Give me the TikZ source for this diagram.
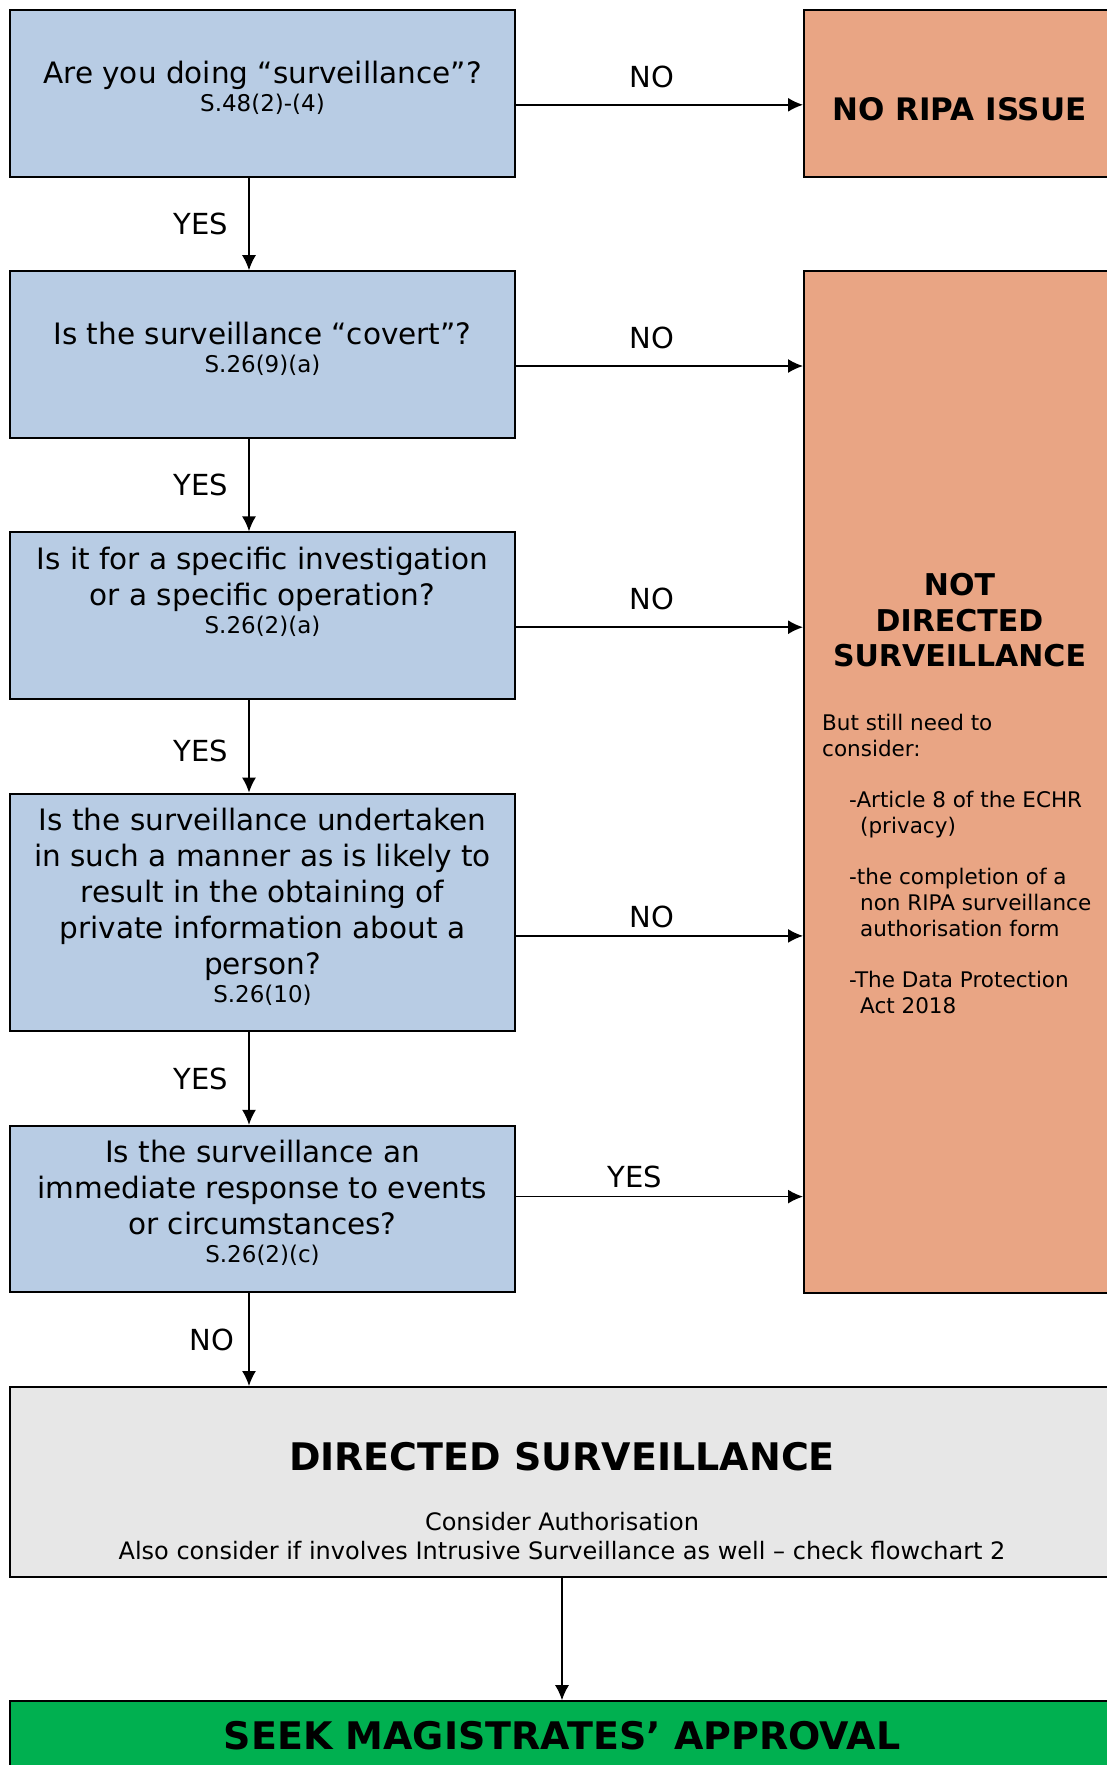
\documentclass[tikz,border=0pt]{standalone}
\usepackage{fontspec}
\setmainfont{DejaVu Sans}
\usetikzlibrary{positioning, arrows.meta}

\definecolor{qblue}{RGB}{184,204,228}
\definecolor{nosalmon}{RGB}{233,165,132}
\definecolor{dirgrey}{RGB}{231,231,231}
\definecolor{okgreen}{RGB}{0,176,80}

% section reference under a question, with a strut below it
\newcommand{\actref}[2][15pt]{{\fontsize{23}{28}\selectfont #2\rule[-#1]{0pt}{#1}}}

\begin{document}
\begin{tikzpicture}[
    question/.style={draw, line width=2pt, fill=qblue, minimum width=505pt, minimum height=166.6pt, align=center, inner sep=0pt, font=\fontsize{29.5}{36}\selectfont},
    outcome/.style={draw, line width=2pt, fill=nosalmon, minimum width=311pt, inner sep=0pt},
    result/.style={draw, line width=2pt, minimum width=1104pt, inner sep=0pt},
    flow/.style={-{Latex[length=15pt,width=14pt]}, line width=1.5pt},
    answer/.style={font=\fontsize{29}{36}\selectfont, inner sep=2pt},
    node distance=92.6pt
]
    \useasboundingbox (0,0) rectangle (1107pt,-1765pt);

    \node (q1) at (9pt,-9pt) [question, anchor=north west] {Are you doing “surveillance”?\\[-8pt]\actref{S.48(2)-(4)}};
    \node (q2) [question, below=of q1] {Is the surveillance “covert”?\\[-8pt]\actref{S.26(9)(a)}};
    \node (q3) [question, below=of q2] {Is it for a specific investigation\\or a specific operation?\\[-8pt]\actref[51pt]{S.26(2)(a)}};
    \node (q4) [question, below=of q3, minimum height=237.6pt] {Is the surveillance undertaken\\in such a manner as is likely to\\result in the obtaining of\\private information about a\\person?\\[-8pt]\actref{S.26(10)}};
    \node (q5) [question, below=of q4] {Is the surveillance an\\immediate response to events\\or circumstances?\\[-8pt]\actref{S.26(2)(c)}};

    \node (noripa) [outcome, right=287pt of q1, minimum height=166.6pt, text height=55pt, text depth=0pt, font=\bfseries\fontsize{31}{36}\selectfont] {NO RIPA ISSUE};

    \node (notdir) [outcome, right=287pt of q2.north east, anchor=north west, minimum height=1021.3pt] {};
    \node (notdir title) [below=303pt of notdir.north, align=center, inner sep=0pt, font=\bfseries\fontsize{30}{35.5}\selectfont] {NOT\\DIRECTED\\SURVEILLANCE};
    \node (notdir note) [below right=444pt and 19pt of notdir.north west, anchor=north west, align=left, inner sep=0pt, font=\fontsize{21.5}{26}\selectfont] {But still need to\\consider:\\[25pt]
        \hspace*{27pt}-Article 8 of the ECHR\\
        \hspace*{38pt}(privacy)\\[25pt]
        \hspace*{27pt}-the completion of a\\
        \hspace*{38pt}non RIPA surveillance\\
        \hspace*{38pt}authorisation form\\[25pt]
        \hspace*{27pt}-The Data Protection\\
        \hspace*{38pt}Act 2018};

    \node (directed) [result, fill=dirgrey, below=92.6pt of q5.south west, anchor=north west, minimum height=190.2pt] {};
    \node (directed title) [below=56pt of directed.north, inner sep=0pt, font=\bfseries\fontsize{38}{44}\selectfont] {DIRECTED SURVEILLANCE};
    \node (directed note) [below=126pt of directed.north, align=center, inner sep=0pt, font=\fontsize{24}{29.5}\selectfont] {Consider Authorisation\\Also consider if involves Intrusive Surveillance as well – check flowchart 2};

    \node (approval) [result, fill=okgreen, below=122pt of directed, minimum height=68pt, font=\bfseries\fontsize{38}{44}\selectfont] {SEEK MAGISTRATES’ APPROVAL};

    % yes / no down the left column
    \draw[flow] ([xshift=-13.5pt]q1.south) -- ([xshift=-13.5pt]q2.north) node[answer, midway, left=18pt] {YES};
    \draw[flow] ([xshift=-13.5pt]q2.south) -- ([xshift=-13.5pt]q3.north) node[answer, midway, left=18pt] {YES};
    \draw[flow] ([xshift=-13.5pt]q3.south) -- ([xshift=-13.5pt]q4.north) node[answer, midway, left=18pt, yshift=-5pt] {YES};
    \draw[flow] ([xshift=-13.5pt]q4.south) -- ([xshift=-13.5pt]q5.north) node[answer, midway, left=18pt] {YES};
    \draw[flow] ([xshift=-13.5pt]q5.south) -- ([xshift=-13.5pt]q5.south |- directed.north) node[answer, midway, left=12pt] {NO};
    \draw[flow] (directed) -- (approval);

    % answers across to the right
    \draw[flow] ([yshift=-11.5pt]q1.east) -- ([yshift=-11.5pt]q1.east -| noripa.west) node[answer, midway, above=14.5pt, xshift=-7.5pt] {NO};
    \draw[flow] ([yshift=-11.5pt]q2.east) -- ([yshift=-11.5pt]q2.east -| notdir.west) node[answer, midway, above=14.5pt, xshift=-7.5pt] {NO};
    \draw[flow] ([yshift=-11.5pt]q3.east) -- ([yshift=-11.5pt]q3.east -| notdir.west) node[answer, midway, above=14.5pt, xshift=-7.5pt] {NO};
    \draw[flow] ([yshift=-23.5pt]q4.east) -- ([yshift=-23.5pt]q4.east -| notdir.west) node[answer, midway, above=5.5pt, xshift=-7.5pt] {NO};
    \draw[flow] ([yshift=12.5pt]q5.east) -- ([yshift=12.5pt]q5.east -| notdir.west) node[answer, midway, above=5.5pt, xshift=-25pt] {YES};
\end{tikzpicture}
\end{document}
